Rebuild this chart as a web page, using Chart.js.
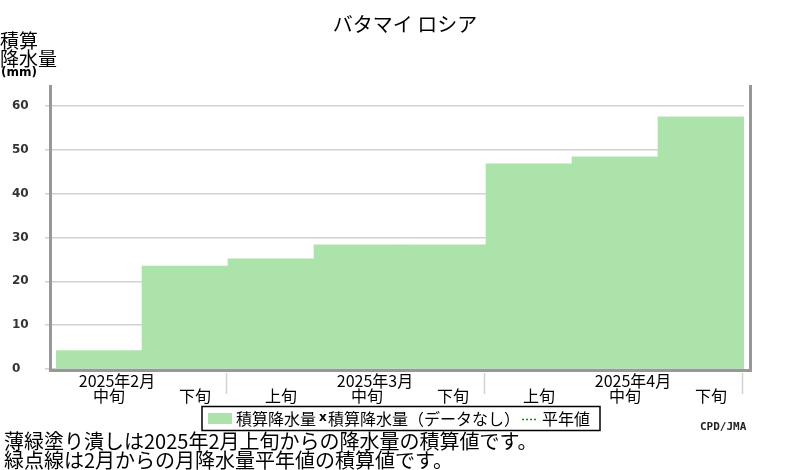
<!DOCTYPE html>
<html>
<head>
<meta charset="utf-8">
<script src="https://cdn.jsdelivr.net/npm/chart.js@4"></script>
<style>
  html, body { margin: 0; padding: 0; background: #fff; }
  #wrap { width: 800px; height: 470px; position: relative; }
</style>
</head>
<body>
<div id="wrap"><canvas id="c" width="800" height="470"></canvas></div>
<script>
// ---- data ----
const chartTitle = 'バタマイ ロシア';
const decadeLabels = ['中旬', '下旬', '上旬', '中旬', '下旬', '上旬', '中旬', '下旬'];
const monthLabels = ['2025年2月', '2025年3月', '2025年4月'];
const monthLabelIndex = [0, 3, 6];
const monthBoundaryIndex = [2, 5, 8];
const precipTotals = [4.2, 23.5, 25.1, 28.3, 28.3, 46.8, 48.4, 57.5];
const yTitleLines = ['積算', '降水量'];
const yUnit = '(mm)';
const legendTexts = ['積算降水量', '積算降水量（データなし）', '平年値'];
const noteLines = ['薄緑塗り潰しは2025年2月上旬からの降水量の積算値です。', '緑点線は2月からの月降水量平年値の積算値です。'];
const credit = 'CPD/JMA';

const JP = '"Noto Sans CJK JP", "Noto Sans", sans-serif';
const BAR = '#abe3ab';
const GRID = '#d2d2d2';
const FRAME = '#989898';

const decor = {
  id: 'decor',
  afterDraw(chart) {
    const ctx = chart.ctx;
    const a = chart.chartArea;
    const xs = chart.scales.x;
    ctx.save();
    // frame
    ctx.strokeStyle = FRAME;
    ctx.lineWidth = 3;
    ctx.beginPath();
    ctx.moveTo(a.left - 5.5, a.top + 1);
    ctx.lineTo(a.left - 5.5, a.bottom + 1.5);
    ctx.lineTo(a.right + 6.5, a.bottom + 1.5);
    ctx.lineTo(a.right + 6.5, a.top + 1);
    ctx.stroke();
    // month boundaries
    ctx.strokeStyle = GRID;
    ctx.lineWidth = 1.5;
    const half = (xs.getPixelForValue(1) - xs.getPixelForValue(0)) / 2;
    monthBoundaryIndex.forEach(i => {
      const px = Math.round(xs.getPixelForValue(i - 1) + half) - 1.5;
      ctx.beginPath();
      ctx.moveTo(px, a.bottom + 4);
      ctx.lineTo(px, a.bottom + 25);
      ctx.stroke();
    });
    // month labels
    ctx.fillStyle = '#000';
    ctx.font = '16px ' + JP;
    ctx.textAlign = 'center';
    ctx.textBaseline = 'middle';
    monthLabels.forEach((m, k) => {
      ctx.fillText(m, xs.getPixelForValue(monthLabelIndex[k]) + 18, 381);
    });
    // title
    ctx.font = '20px ' + JP;
    ctx.fillText(chartTitle, 405, 24);
    // y axis title
    ctx.textAlign = 'left';
    ctx.font = '19px ' + JP;
    ctx.fillText(yTitleLines[0], 0, 41);
    ctx.fillText(yTitleLines[1], 0, 59);
    ctx.font = 'bold 12px "DejaVu Sans", sans-serif';
    ctx.fillText(yUnit, 1, 73);
    // legend
    ctx.strokeStyle = '#000';
    ctx.lineWidth = 1.5;
    ctx.strokeRect(202, 406.5, 398, 24);
    ctx.fillStyle = BAR;
    ctx.fillRect(208, 413, 24, 11);
    ctx.fillStyle = '#000';
    ctx.font = '16px ' + JP;
    let x = 236;
    ctx.fillText(legendTexts[0], x, 419);
    x += ctx.measureText(legendTexts[0]).width + 3;
    ctx.font = 'bold 12px "DejaVu Sans", sans-serif';
    ctx.fillText('x', x, 418);
    x += 9;
    ctx.font = '16px ' + JP;
    ctx.fillText(legendTexts[1], x, 419);
    x += ctx.measureText(legendTexts[1]).width;
    ctx.strokeStyle = '#1a8a1a';
    ctx.lineWidth = 1.5;
    ctx.setLineDash([2, 2]);
    ctx.beginPath();
    ctx.moveTo(x + 2, 419.5);
    ctx.lineTo(x + 18, 419.5);
    ctx.stroke();
    ctx.setLineDash([]);
    ctx.fillText(legendTexts[2], x + 22, 419);
    // credit
    ctx.font = 'bold 11px "DejaVu Sans Mono", monospace';
    ctx.fillStyle = '#222';
    ctx.fillText(credit, 700, 427);
    // notes
    ctx.fillStyle = '#000';
    ctx.font = '20px ' + JP;
    ctx.fillText(noteLines[0], 4, 441);
    ctx.fillText(noteLines[1], 4, 460);
    ctx.restore();
  }
};

new Chart(document.getElementById('c'), {
  type: 'bar',
  data: {
    labels: decadeLabels,
    datasets: [{
      label: legendTexts[0],
      data: precipTotals,
      backgroundColor: BAR,
      borderWidth: 0,
      barPercentage: 1,
      categoryPercentage: 1
    }]
  },
  options: {
    responsive: false,
    animation: false,
    devicePixelRatio: 1,
    layout: { padding: { left: 12, right: 56, top: 84, bottom: 0 } },
    plugins: { legend: { display: false }, title: { display: false }, tooltip: { enabled: false } },
    scales: {
      x: {
        grid: { display: false },
        border: { display: false },
        ticks: {
          color: '#000',
          font: { family: JP, size: 16 },
          padding: 9,
          labelOffset: 10,
          maxRotation: 0,
          autoSkip: false
        },
        afterFit: s => { s.height = 101; }
      },
      y: {
        min: 0,
        max: 65,
        border: { display: false },
        grid: { color: GRID, lineWidth: 1.5, tickLength: 11 },
        ticks: {
          stepSize: 10,
          crossAlign: 'far',
          color: '#333',
          font: { family: '"DejaVu Sans", sans-serif', size: 12, weight: 'bold' }
        },
        afterBuildTicks: s => { s.ticks = s.ticks.filter(t => t.value % 10 === 0); },
        afterFit: s => { s.width = 44; }
      }
    }
  },
  plugins: [decor]
});
</script>
</body>
</html>
